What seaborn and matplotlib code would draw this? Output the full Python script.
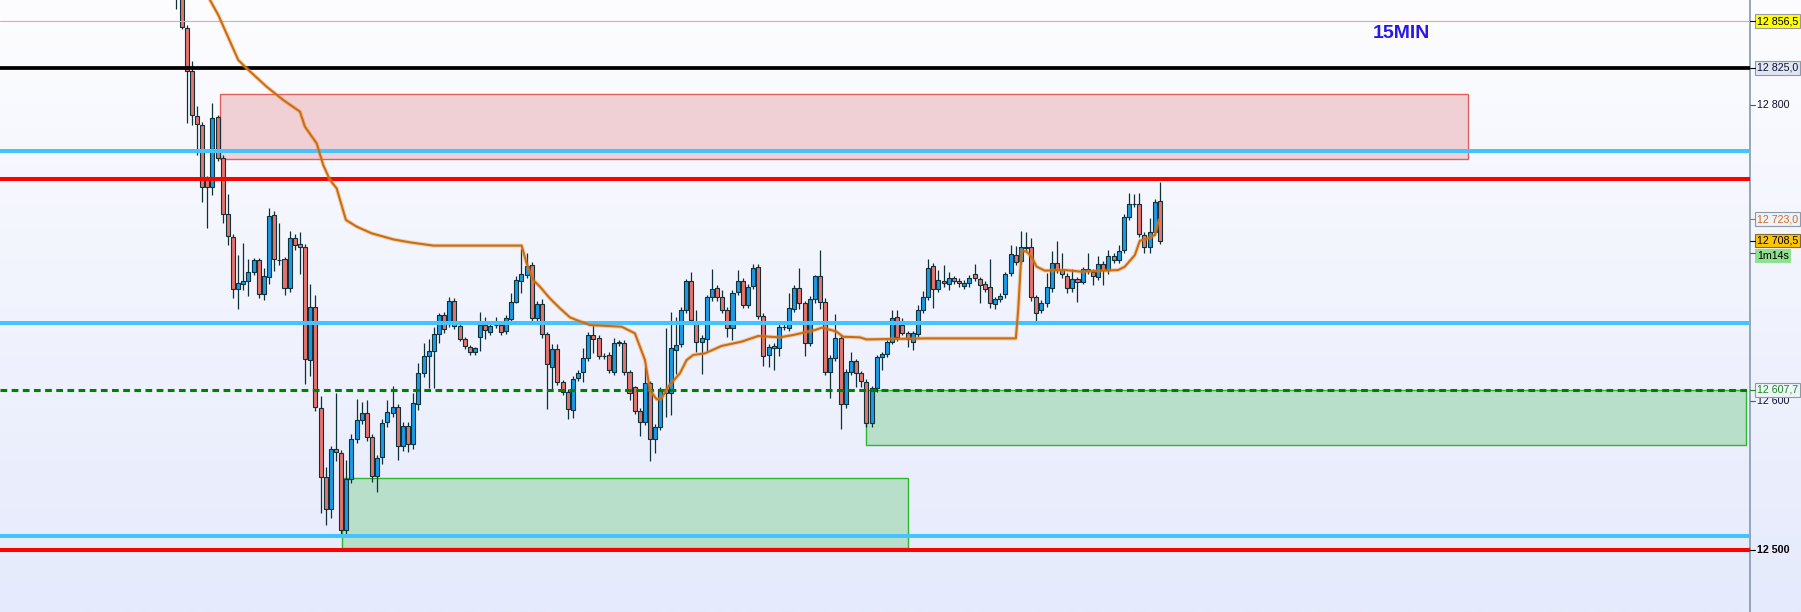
import numpy as np
import matplotlib
matplotlib.use("Agg")
import matplotlib.pyplot as plt
from matplotlib.patches import Rectangle
import seaborn as sns

# ---------------- data ----------------
candle_open = [
 12895.0, 12878.0, 12851.7, 12822.9, 12792.7, 12786.4, 12750.0, 12744.4, 12791.7, 12764.0,
 12726.4, 12710.7, 12675.6, 12679.2, 12681.4, 12687.5, 12695.4, 12672.4, 12683.7, 12725.7,
 12695.4, 12695.8, 12676.3, 12710.0, 12706.0, 12704.0, 12628.0, 12664.0, 12595.7, 12549.0,
 12527.4, 12567.6, 12565.3, 12513.0, 12547.8, 12574.6, 12587.3, 12592.0, 12576.2, 12549.8,
 12562.2, 12586.3, 12591.9, 12595.9, 12570.1, 12583.6, 12571.0, 12598.2, 12619.4, 12630.6,
 12634.2, 12645.2, 12658.3, 12652.2, 12667.7, 12650.8, 12641.8, 12636.4, 12633.1, 12643.2,
 12651.5, 12647.0, 12651.5, 12651.5, 12647.7, 12655.3, 12666.8, 12681.4, 12685.3, 12691.8,
 12656.0, 12665.5, 12645.2, 12623.4, 12635.1, 12612.8, 12606.5, 12594.2, 12615.5, 12619.6,
 12629.0, 12644.5, 12642.5, 12630.6, 12631.3, 12620.0, 12639.6, 12639.6, 12619.6, 12609.9,
 12593.7, 12586.3, 12612.2, 12574.4, 12582.9, 12608.1, 12605.4, 12634.7, 12638.7, 12661.6,
 12681.2, 12652.2, 12639.8, 12642.1, 12670.2, 12676.3, 12670.2, 12661.6, 12649.3, 12673.6,
 12681.0, 12665.0, 12677.8, 12690.4, 12657.8, 12631.3, 12637.4, 12635.8, 12649.9, 12649.3,
 12662.1, 12676.3, 12666.1, 12639.6, 12668.8, 12684.6, 12667.3, 12620.0, 12629.0, 12642.5,
 12598.2, 12620.0, 12627.5, 12618.9, 12613.3, 12585.2, 12608.8, 12629.7, 12631.9, 12640.3,
 12656.7, 12651.5, 12645.9, 12640.3, 12645.4, 12661.6, 12670.6, 12691.6, 12675.6, 12681.2,
 12679.2, 12683.0, 12681.4, 12678.1, 12679.6, 12685.7, 12682.3, 12679.0, 12676.9, 12665.5,
 12669.1, 12672.2, 12686.4, 12698.5, 12694.9, 12704.4, 12703.9, 12670.2, 12661.6, 12666.1,
 12676.2, 12693.6, 12688.6, 12684.6, 12676.2, 12682.3, 12680.8, 12689.5, 12687.5, 12684.1,
 12692.5, 12688.6, 12698.1, 12695.4, 12702.1, 12724.6, 12732.9, 12732.9, 12712.2, 12703.9,
 12714.5, 12735.4]

candle_high = [
 12900.0, 12886.0, 12853.9, 12829.7, 12799.3, 12788.5, 12752.0, 12801.1, 12793.5, 12766.0,
 12740.0, 12713.0, 12698.7, 12706.6, 12696.0, 12697.0, 12697.0, 12690.0, 12730.3, 12728.2,
 12720.5, 12697.5, 12715.0, 12713.0, 12714.5, 12706.0, 12679.1, 12671.5, 12603.6, 12556.0,
 12570.0, 12605.9, 12567.0, 12560.6, 12578.0, 12601.3, 12599.4, 12600.8, 12578.0, 12563.5,
 12588.0, 12600.9, 12610.4, 12598.0, 12586.0, 12586.0, 12605.4, 12626.1, 12639.6, 12641.8,
 12650.4, 12659.4, 12660.5, 12670.2, 12669.5, 12652.5, 12643.5, 12638.0, 12636.9, 12660.1,
 12656.7, 12652.5, 12657.1, 12653.0, 12658.0, 12673.3, 12684.6, 12702.6, 12700.3, 12694.0,
 12667.5, 12669.3, 12647.0, 12638.7, 12638.7, 12614.5, 12608.5, 12617.0, 12621.0, 12635.8,
 12646.5, 12651.5, 12644.5, 12632.4, 12633.0, 12642.5, 12641.5, 12641.5, 12621.5, 12610.6,
 12595.5, 12623.4, 12614.0, 12584.5, 12610.0, 12649.3, 12660.5, 12656.7, 12663.5, 12682.3,
 12687.5, 12661.6, 12644.5, 12672.0, 12689.1, 12678.5, 12675.1, 12663.5, 12675.0, 12688.6,
 12683.0, 12679.0, 12692.7, 12692.7, 12659.5, 12639.0, 12639.5, 12652.5, 12652.0, 12672.9,
 12678.5, 12689.8, 12668.0, 12671.1, 12685.3, 12702.1, 12669.5, 12631.0, 12659.0, 12644.5,
 12622.0, 12633.5, 12628.4, 12620.5, 12615.0, 12610.5, 12631.3, 12633.5, 12641.5, 12661.6,
 12661.6, 12656.0, 12647.5, 12647.5, 12665.0, 12674.7, 12695.8, 12693.5, 12688.6, 12692.0,
 12687.1, 12684.5, 12683.0, 12682.0, 12685.0, 12692.5, 12684.0, 12681.0, 12695.8, 12670.5,
 12673.0, 12687.5, 12705.5, 12704.8, 12715.2, 12714.5, 12710.0, 12672.0, 12668.5, 12686.4,
 12701.7, 12708.4, 12699.9, 12686.5, 12689.1, 12684.0, 12690.4, 12699.9, 12689.5, 12698.1,
 12694.5, 12702.1, 12700.0, 12705.5, 12726.5, 12740.8, 12740.0, 12740.4, 12714.0, 12723.5,
 12736.5, 12748.2]

candle_low = [
 12865.0, 12851.0, 12788.0, 12786.5, 12766.3, 12734.7, 12716.8, 12739.2, 12762.0, 12720.1,
 12705.5, 12670.0, 12662.1, 12675.1, 12671.1, 12685.0, 12669.5, 12668.4, 12679.3, 12688.3,
 12692.0, 12672.0, 12674.0, 12702.0, 12686.0, 12611.7, 12617.1, 12593.8, 12524.6, 12516.5,
 12521.1, 12559.5, 12508.3, 12510.0, 12545.0, 12572.0, 12585.0, 12573.0, 12545.5, 12539.0,
 12558.0, 12582.9, 12589.5, 12560.4, 12566.5, 12566.0, 12568.0, 12594.2, 12616.5, 12608.8,
 12608.8, 12639.6, 12646.3, 12650.0, 12648.5, 12640.7, 12635.5, 12631.3, 12631.5, 12634.2,
 12641.8, 12644.8, 12649.5, 12644.5, 12645.5, 12653.0, 12666.1, 12673.3, 12683.5, 12654.0,
 12654.0, 12643.0, 12594.6, 12608.1, 12611.0, 12604.5, 12587.9, 12588.5, 12613.5, 12613.3,
 12627.0, 12632.8, 12628.5, 12628.5, 12619.0, 12618.0, 12637.5, 12617.5, 12600.9, 12591.5,
 12576.6, 12584.0, 12560.0, 12565.0, 12580.5, 12589.7, 12590.8, 12618.5, 12636.5, 12659.5,
 12652.5, 12633.5, 12618.5, 12633.5, 12668.0, 12668.0, 12659.5, 12643.6, 12641.4, 12671.5,
 12663.0, 12663.0, 12675.5, 12655.5, 12623.9, 12623.4, 12621.2, 12630.6, 12648.0, 12647.5,
 12660.0, 12662.1, 12630.6, 12637.5, 12666.5, 12662.1, 12618.0, 12602.0, 12627.0, 12581.1,
 12595.3, 12618.0, 12609.9, 12609.9, 12583.0, 12582.9, 12606.5, 12621.2, 12630.0, 12638.5,
 12641.0, 12644.5, 12636.9, 12634.7, 12643.5, 12659.5, 12668.5, 12662.8, 12673.5, 12677.5,
 12675.1, 12679.5, 12677.5, 12676.0, 12677.5, 12681.0, 12666.1, 12673.5, 12662.8, 12662.1,
 12667.0, 12670.0, 12684.5, 12692.0, 12692.5, 12701.5, 12668.0, 12653.8, 12659.5, 12664.0,
 12674.0, 12686.5, 12683.5, 12673.3, 12674.0, 12667.3, 12679.0, 12686.0, 12678.5, 12682.0,
 12678.5, 12685.9, 12693.5, 12693.5, 12700.0, 12722.5, 12731.0, 12711.0, 12700.3, 12699.9,
 12712.5, 12706.5]

candle_close = [
 12880.0, 12852.4, 12822.9, 12793.2, 12787.1, 12744.6, 12744.4, 12791.0, 12764.0, 12726.4,
 12711.6, 12675.6, 12679.7, 12681.4, 12687.5, 12695.4, 12672.4, 12684.6, 12725.1, 12695.8,
 12695.6, 12676.3, 12710.0, 12705.5, 12704.4, 12628.7, 12663.6, 12596.2, 12549.0, 12527.4,
 12568.0, 12566.0, 12513.0, 12547.8, 12574.6, 12587.3, 12592.0, 12575.7, 12549.5, 12561.5,
 12585.6, 12592.6, 12595.9, 12570.1, 12583.6, 12571.0, 12598.6, 12618.9, 12630.6, 12634.2,
 12645.2, 12658.3, 12648.6, 12667.7, 12650.8, 12641.8, 12637.3, 12633.1, 12635.8, 12651.5,
 12648.1, 12650.8, 12651.7, 12646.6, 12656.0, 12666.8, 12681.9, 12685.9, 12691.3, 12656.0,
 12665.5, 12645.2, 12625.2, 12635.1, 12613.3, 12606.5, 12594.6, 12614.9, 12618.9, 12629.0,
 12644.5, 12641.9, 12630.6, 12630.8, 12621.2, 12639.6, 12639.8, 12619.6, 12605.9, 12593.7,
 12586.3, 12612.2, 12574.4, 12582.5, 12608.1, 12605.9, 12635.8, 12638.0, 12661.6, 12681.2,
 12654.9, 12639.8, 12642.5, 12670.2, 12675.6, 12670.2, 12661.6, 12649.3, 12672.9, 12681.0,
 12665.0, 12676.9, 12689.8, 12657.6, 12630.6, 12636.9, 12635.8, 12650.4, 12650.1, 12662.8,
 12676.3, 12666.1, 12639.1, 12668.8, 12684.6, 12667.3, 12620.0, 12629.0, 12642.5, 12598.2,
 12620.0, 12627.5, 12618.9, 12613.9, 12585.2, 12608.8, 12629.7, 12631.9, 12639.8, 12656.0,
 12643.2, 12646.3, 12641.9, 12645.9, 12661.6, 12670.6, 12689.8, 12675.6, 12681.9, 12679.6,
 12683.0, 12681.4, 12679.6, 12680.1, 12683.0, 12683.0, 12678.5, 12675.8, 12666.1, 12668.8,
 12671.3, 12685.7, 12699.2, 12694.3, 12704.4, 12703.3, 12670.2, 12659.4, 12666.6, 12677.4,
 12693.6, 12688.6, 12685.7, 12676.2, 12682.3, 12680.8, 12689.1, 12688.0, 12684.6, 12692.5,
 12688.6, 12698.1, 12695.4, 12701.7, 12724.6, 12732.9, 12733.1, 12712.9, 12703.9, 12714.5,
 12734.7, 12708.5]

# VWAP-like orange line (bar position, price)
vwap_pos = [5.0, 6.52, 8.14, 12.02, 13.65, 17.53, 20.76, 24.0, 24.97, 27.24,
            28.52, 29.83, 31.13, 32.93, 35.01, 37.92, 42.12, 45.36, 49.88, 67.05,
            68.02, 69.30, 70.60, 72.54, 74.49, 76.43, 77.4, 80.31, 86.47, 89.05,
            91.0, 91.96, 93.26, 94.23, 95.51, 97.79, 99.09, 100.37, 102.64, 105.88,
            109.77, 112.99, 117.2, 119.79, 121.73, 124.0, 125.3, 127.24, 128.21, 129.5,
            132.74, 134.04, 145.69, 163.03, 163.48, 164.14, 165.11, 166.08, 167.05, 168.66,
            172.54, 175.79, 182.89, 184.19, 186.14, 187.11, 188.72, 190.02, 190.8]
vwap_val = [12880.0, 12870.8, 12860.7, 12830.3, 12824.7, 12812.3, 12803.3, 12795.5, 12785.3, 12774.1,
            12759.5, 12749.4, 12743.7, 12722.4, 12717.9, 12713.4, 12709.3, 12707.3, 12705.1, 12705.1,
            12693.1, 12681.9, 12677.4, 12669.5, 12662.8, 12656.7, 12655.3, 12651.5, 12650.4, 12645.9,
            12627.9, 12607.7, 12601.4, 12602.0, 12610.0, 12618.9, 12627.9, 12631.3, 12632.4, 12637.4,
            12640.3, 12644.1, 12643.2, 12644.8, 12646.3, 12648.1, 12649.7, 12648.1, 12647.0, 12643.6,
            12643.2, 12641.8, 12642.5, 12642.5, 12661.6, 12701.7, 12701.0, 12697.6, 12690.9, 12688.2,
            12688.6, 12687.5, 12688.6, 12690.9, 12698.7, 12708.4, 12710.0, 12712.2, 12722.4]

# horizontal levels
level_values = [12856.5, 12825.0, 12769.0, 12750.0, 12653.0, 12607.7, 12509.5, 12500.0]

# zones (start bar, end bar, low, high)
zone_start = [8.4, 32.1, 133.9]
zone_end = [250.9, 142.0, 304.8]
zone_low = [12763.3, 12501.3, 12570.3]
zone_high = [12807.3, 12548.2, 12607.4]

# right-hand price scale
tick_values = [12856.5, 12825.0, 12800.0, 12723.0, 12708.5, 12700.0, 12607.7, 12600.0, 12500.0]
label_values = [12856.5, 12825.0, 12800.0, 12723.0, 12708.5, 12600.0, 12607.7, 12500.0]
label_texts = ["12 856,5", "12 825,0", "12 800", "12 723,0", "12 708,5", "12 600", "12 607,7", "12 500"]
timer_value = 12697.8
timer_text = "1m14s"
title_text = "15MIN"

# ---------------- styles ----------------
level_colors = ["#f4a0a0", "#000000", "#45c3ff", "#ff0000", "#45c3ff", "#008000", "#45c3ff", "#ff0000"]
level_widths = [0.8, 2.7, 2.9, 2.9, 2.9, 2.2, 2.9, 2.9]
level_dashed = [False, False, False, False, False, True, False, False]

zone_faces = ["#f0d0d5", "#b8dfca", "#b8dfca"]
zone_edges = ["#e06060", "#2fb52f", "#2fb52f"]

tick_colors = ["#000000", "#000000", "#505a66", "#d2691e", "#000000", "#505a66", "#1a8a1a", "#505a66", "#000000"]
label_fg = ["#000000", "#101030", "#101030", "#d2691e", "#000000", "#101030", "#1a8a1a", "#000000"]
label_bg = ["#ffff00", "#dfe6f2", None, "#eef2fa", "#ffc400", None, "#eef4f8", None]
label_ec = ["#9a9a9a", "#8a9aaa", None, "#8a9aaa", "#806a30", None, "#8a9aaa", None]
label_bold = [False, False, False, False, False, False, False, True]

sns.set_theme(style="white")
plt.rcParams['font.family'] = ['Liberation Sans', 'DejaVu Sans']

W, H = 1801, 612
fig = plt.figure(figsize=(W / 100, H / 100), dpi=100)

# background gradient
bg = fig.add_axes([0, 0, 1, 1])
bg.axis('off')
t = np.linspace(0, 1, 256)[:, None, None]
top = np.array([253, 253, 255]) / 255.0
bot = np.array([229, 234, 252]) / 255.0
grad = top[None, None, :] + (bot - top)[None, None, :] * t
bg.imshow(grad, aspect='auto', extent=[0, 1, 0, 1], origin='upper')
bg.set_xlim(0, 1); bg.set_ylim(0, 1)

ax_w = 1750 / W
ax = fig.add_axes([0, 0, ax_w, 1])
ax.set_facecolor('none')

n = len(candle_open)
idx = np.arange(n)
o = np.array(candle_open); c = np.array(candle_close)
hi = np.array(candle_high); lo = np.array(candle_low)

# zones
for s, e, l, h, fc, ec in zip(zone_start, zone_end, zone_low, zone_high, zone_faces, zone_edges):
    ax.add_patch(Rectangle((s, l), e - s, h - l, facecolor=fc, edgecolor=ec, lw=1.0, zorder=1))

# candles
edge = "#0d3136"
ax.vlines(idx, lo, hi, color=edge, lw=0.9, zorder=2)
bull = c >= o
cols = np.where(bull, "#1a9bea", "#e8736c")
height = np.maximum(np.abs(c - o), 0.25)
ax.bar(idx, height, bottom=np.minimum(o, c), width=0.78, color=cols,
       edgecolor=edge, linewidth=0.8, zorder=3)

# levels
for v, col, lw, dsh in zip(level_values, level_colors, level_widths, level_dashed):
    if dsh:
        ax.axhline(v, color=col, lw=lw, ls=(0, (2.2, 1.45)), zorder=4)
    else:
        ax.axhline(v, color=col, lw=lw, zorder=4)

# vwap line
sns.lineplot(x=vwap_pos, y=vwap_val, ax=ax, color="#e09040", lw=3.0, alpha=0.35,
             sort=False, estimator=None, zorder=5)
sns.lineplot(x=vwap_pos, y=vwap_val, ax=ax, color="#cf6c0c", lw=1.5,
             sort=False, estimator=None, zorder=6)

ax.set_xlim(-34.25, 305.6)
ax.set_ylim(12457.9, 12870.8)
ax.set_xticks([]); ax.set_yticks([])
ax.set_xlabel(""); ax.set_ylabel("")
for sp in ['top', 'left', 'bottom']:
    ax.spines[sp].set_visible(False)
ax.spines['right'].set_visible(True)
ax.spines['right'].set_color('#7a92a4')
ax.spines['right'].set_linewidth(1.1)

ytr = ax.get_yaxis_transform()
tick_len = 4.5 / 1750
for v, col in zip(tick_values, tick_colors):
    ax.plot([1.0, 1.0 + tick_len], [v, v], transform=ytr, color=col, lw=0.8,
            clip_on=False, zorder=7)

for v, txt, fg, bgc, ec, bold in zip(label_values, label_texts, label_fg, label_bg, label_ec, label_bold):
    kw = {}
    if bgc is not None:
        kw['bbox'] = dict(boxstyle='square,pad=0.18', fc=bgc, ec=ec, lw=0.8)
    ax.annotate(txt, xy=(1.0, v), xycoords=ytr, xytext=(7, 0), textcoords='offset pixels',
                ha='left', va='center', fontsize=7.7, color=fg,
                fontweight='bold' if bold else 'normal', annotation_clip=False, **kw)

ax.annotate(timer_text, xy=(1.0, timer_value), xycoords=ytr, xytext=(7, 0), textcoords='offset pixels',
            ha='left', va='center', fontsize=7.7, color='#000000', annotation_clip=False,
            bbox=dict(boxstyle='square,pad=0.18', fc='#8fe08f', ec='none'))

ax.text(1401 / 1750, 1 - 33 / 612, title_text, transform=ax.transAxes, ha='center', va='center',
        fontsize=14, fontweight='bold', color='#2a1ae8', zorder=8)

fig.savefig("out.png", dpi=100)
